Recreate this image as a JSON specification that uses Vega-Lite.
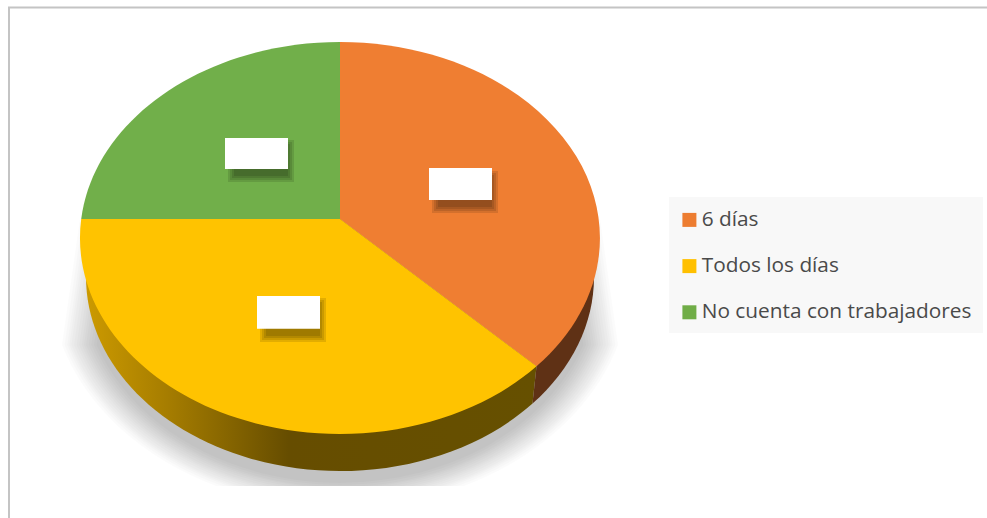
{
"$schema":"https://vega.github.io/schema/vega-lite/v6.json",
"width":987,"height":518,
"autosize":{"type":"fit","contains":"padding"},
"padding":0,
"background":"white",
"config":{"view":{"stroke":null}},
"datasets":{"respuestas":[{"respuesta":"6 días","valor":36},{"respuesta":"Todos los días","valor":40},{"respuesta":"No cuenta con trabajadores","valor":24}]},
"resolve":{"scale":{"shape":"independent","color":"independent"}},
"layer":[
{"data":{"values":[{"elemento":"marco"}]},
 "mark":{"type":"point","filled":true,"opacity":1,"size":4,"strokeWidth":0,"fill":"#c4c4c4","shape":"M -485.5 259 V -252.5 H 493.5 V -250.5 H -483.5 V 259 Z"},"encoding":{}},
{"data":{"values":[{"paso":1},{"paso":2},{"paso":3},{"paso":4},{"paso":5},{"paso":6},{"paso":7},{"paso":8},{"paso":9},{"paso":10},{"paso":11},{"paso":12},{"paso":13},{"paso":14},{"paso":15}]},
 "mark":{"type":"point","filled":true,"opacity":0.015,"size":4,"strokeWidth":0,"fill":"#000000"},
 "encoding":{"shape":{"field":"paso","type":"nominal","legend":null,"scale":{"domain":[1,2,3,4,5,6,7,8,9,10,11,12,13,14,15],"range":[
 "M -379 -40 L -397 86 A 258 206 0 0 0 90 86 L 72 -40 Z",
 "M -381.65 -40 L -399.65 86 A 260.5 208 0 0 0 92.65 86 L 74.65 -40 Z",
 "M -384.3 -40 L -402.3 86 A 263 210 0 0 0 -179.1 227 L -127.9 227 A 263 210 0 0 0 95.3 86 L 77.3 -40 Z",
 "M -386.9 -40 L -404.9 86 A 265.5 211.5 0 0 0 -192.15 227 L -114.85 227 A 265.5 211.5 0 0 0 97.9 86 L 79.9 -40 Z",
 "M -389.5 -40 L -407.5 86 A 268 213 0 0 0 -205.2 227 L -101.8 227 A 268 213 0 0 0 100.5 86 L 82.5 -40 Z",
 "M -391.65 -40 L -409.65 86 A 270 215 0 0 0 -215.95 227 L -91.05 227 A 270 215 0 0 0 102.65 86 L 84.65 -40 Z",
 "M -393.8 -40 L -411.8 86 A 272 217 0 0 0 -226.7 227 L -80.3 227 A 272 217 0 0 0 104.8 86 L 86.8 -40 Z",
 "M -396.35 -40 L -414.35 86 A 274.5 218.5 0 0 0 -233.35 227 L -73.65 227 A 274.5 218.5 0 0 0 107.35 86 L 89.35 -40 Z",
 "M -398.9 -40 L -416.9 86 A 277 220 0 0 0 -240 227 L -67 227 A 277 220 0 0 0 109.9 86 L 91.9 -40 Z",
 "M -401.55 -40 L -419.55 86 A 279.5 222 0 0 0 -247.45 227 L -59.55 227 A 279.5 222 0 0 0 112.55 86 L 94.55 -40 Z",
 "M -404.2 -40 L -422.2 86 A 282 224 0 0 0 -254.9 227 L -52.1 227 A 282 224 0 0 0 115.2 86 L 97.2 -40 Z",
 "M -406.25 -40 L -424.25 86 A 284 225.5 0 0 0 -260 227 L -47 227 A 284 225.5 0 0 0 117.25 86 L 99.25 -40 Z",
 "M -408.3 -40 L -426.3 86 A 286 227 0 0 0 -265.1 227 L -41.9 227 A 286 227 0 0 0 119.3 86 L 101.3 -40 Z",
 "M -410.95 -40 L -428.95 86 A 288.5 229 0 0 0 -271.25 227 L -35.75 227 A 288.5 229 0 0 0 121.95 86 L 103.95 -40 Z",
 "M -413.6 -40 L -431.6 86 A 291 231 0 0 0 -277.4 227 L -29.6 227 A 291 231 0 0 0 124.6 86 L 106.6 -40 Z"
 ]}}}},
{"data":{"values":[{"elemento":"lateral Todos los días"}]},
 "mark":{"type":"point","filled":true,"opacity":1,"size":4,"strokeWidth":0,
 "fill":{"gradient":"linear","x1":0,"y1":0,"x2":1,"y2":0,"stops":[{"offset":0,"color":"#cc9a00"},{"offset":0.18,"color":"#a67d00"},{"offset":0.45,"color":"#664d00"},{"offset":1,"color":"#665000"}]},
 "shape":"M -407.5 18 A 254 194 0 0 0 39 144.6 L 43 107.3 L -153.5 -40 Z"},"encoding":{}},
{"data":{"values":[{"elemento":"lateral 6 días"}]},
 "mark":{"type":"point","filled":true,"opacity":1,"size":4,"strokeWidth":0,"fill":"#5f3115",
 "shape":"M 39 144.6 A 254 194 0 0 0 100.5 18 L 43 107.3 Z"},"encoding":{}},
{"data":{"name":"respuestas"},
 "mark":{"type":"point","filled":true,"opacity":1,"size":4,"strokeWidth":0},
 "encoding":{
 "shape":{"field":"respuesta","type":"nominal","legend":null,"scale":{"domain":["6 días","Todos los días","No cuenta con trabajadores"],"range":[
 "M -153.5 -40 L -153.5 -217 A 260 196 0 0 1 43 107.3 Z",
 "M -153.5 -40 L 43 107.3 A 260 196 0 0 1 -412.3 -40 Z",
 "M -153.5 -40 L -412.3 -40 A 260 196 0 0 1 -153.5 -217 Z"]}},
 "color":{"field":"respuesta","type":"nominal","sort":null,"legend":null,
 "scale":{"domain":["6 días","Todos los días","No cuenta con trabajadores"],"range":["#ef7e32","#ffc300","#71af4a"]}}}},
{"data":{"values":[{"paso":1},{"paso":2},{"paso":3},{"paso":4}]},
 "mark":{"type":"point","filled":true,"opacity":0.11,"size":4,"strokeWidth":0,"fill":"#000000"},
 "encoding":{"shape":{"field":"paso","type":"nominal","legend":null,"scale":{"domain":[1,2,3,4],"range":[
 "M -265.5 -119 H -199.5 V -77 H -265.5 Z M -61.5 -88 H 4.5 V -46 H -61.5 Z M -233.5 39 H -167.5 V 83 H -233.5 Z",
 "M -263.5 -117 H -201.5 V -79 H -263.5 Z M -59.5 -86 H 2.5 V -48 H -59.5 Z M -231.5 41 H -169.5 V 81 H -231.5 Z",
 "M -261.5 -115 H -203.5 V -81 H -261.5 Z M -57.5 -84 H 0.5 V -50 H -57.5 Z M -229.5 43 H -171.5 V 79 H -229.5 Z",
 "M -259.5 -113 H -205.5 V -83 H -259.5 Z M -55.5 -82 H -1.5 V -52 H -55.5 Z M -227.5 45 H -173.5 V 77 H -227.5 Z"
 ]}}}},
{"data":{"name":"respuestas"},
 "mark":{"type":"point","filled":true,"opacity":1,"size":4,"strokeWidth":0,"fill":"#ffffff"},
 "encoding":{"shape":{"field":"respuesta","type":"nominal","legend":null,"scale":{"domain":["6 días","Todos los días","No cuenta con trabajadores"],"range":[
 "M -64.5 -91 H -1.5 V -59 H -64.5 Z",
 "M -236.5 37 H -173.5 V 69.7 H -236.5 Z",
 "M -268.5 -121 H -205.5 V -90 H -268.5 Z"]}}}},
{"data":{"values":[{"elemento":"fondo de leyenda"}]},
 "mark":{"type":"point","filled":true,"opacity":1,"size":4,"strokeWidth":0,"fill":"#f8f8f8",
 "shape":"M 175.5 -62 H 489.5 V 74 H 175.5 Z"},"encoding":{}},
{"data":{"name":"respuestas"},
 "mark":{"type":"square","size":0,"opacity":1,"strokeWidth":0},
 "encoding":{"color":{"field":"respuesta","type":"nominal","sort":null,
 "scale":{"domain":["6 días","Todos los días","No cuenta con trabajadores"],"range":["#ed7d31","#ffc000","#70ad47"]},
 "legend":{"title":null,"orient":"none","legendX":679,"legendY":209.5,"padding":0,"symbolType":"square","symbolSize":196,"symbolStrokeWidth":0,"labelFont":"Open Sans","labelFontSize":20.8,"labelColor":"#4a4a4a","labelOffset":2,"rowPadding":24.2,"labelLimit":320}}}}
]
}
